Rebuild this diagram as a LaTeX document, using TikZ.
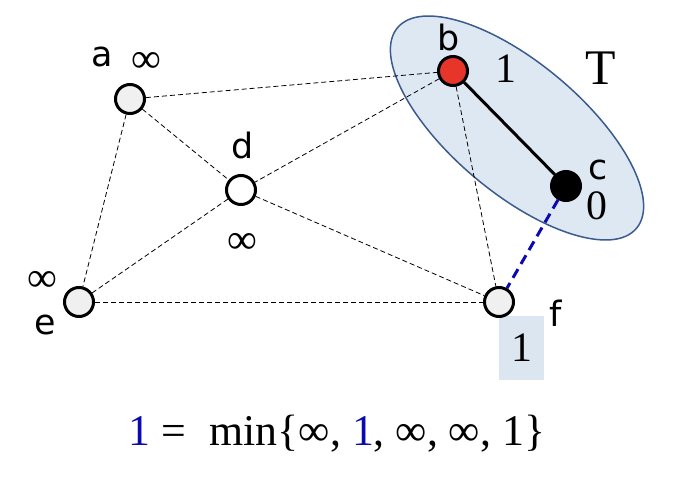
\documentclass[tikz,border=0pt]{standalone}
\usepackage{fontspec}
\setmainfont{Liberation Serif}
\newfontfamily\lblfont{DejaVu Sans}
\definecolor{nodegrey}{HTML}{F0F0F0}
\definecolor{nodered}{HTML}{E8352A}
\definecolor{setfill}{HTML}{DEE8F3}
\definecolor{setdraw}{HTML}{3B5B8E}
\definecolor{boxfill}{HTML}{DCE6F1}
\definecolor{eqblue}{HTML}{0A0AB0}
\begin{document}
\begin{tikzpicture}[x=1bp,y=-1bp,
  vert/.style={circle,draw=black,line width=3bp,minimum size=29bp,inner sep=0pt},
  thin/.style={draw=black,line width=0.8bp,dash pattern=on 5bp off 3bp},
  lbl/.style={inner sep=0pt,font=\lblfont\fontsize{35}{40}\selectfont},
  num/.style={inner sep=0pt,font=\fontsize{42}{48}\selectfont}]
\useasboundingbox (0,0) rectangle (678,480);
% set T
\draw[fill=setfill,draw=setdraw,line width=1.5bp] (517,128) ellipse [x radius=156bp,y radius=65bp,rotate=-40];
% box under f
\node[fill=boxfill,minimum width=45bp,minimum height=64bp,inner sep=0pt] (fbox) at (521.5,348) {};
% vertices
\node[vert,fill=nodegrey] (a) at (130,99) {};
\node[vert,fill=nodered] (b) at (453,71) {};
\node[vert,fill=black] (c) at (566,186) {};
\node[vert,fill=white] (d) at (241,190) {};
\node[vert,fill=nodegrey] (e) at (79,302) {};
\node[vert,fill=nodegrey] (f) at (499,302) {};
% edges
\draw[thin] (a) -- (b);
\draw[thin] (a) -- (d);
\draw[thin] (a) -- (e);
\draw[thin] (b) -- (d);
\draw[thin] (b) -- (f);
\draw[thin] (d) -- (e);
\draw[thin] (d) -- (f);
\draw[thin] (e) -- (f);
\draw[line width=3bp] (b) -- (c);
\draw[draw=eqblue,line width=3bp,dash pattern=on 10bp off 6bp] (c) -- (f);
% labels
\node[lbl] (la) at (102,57) {a};
\node[num] (ia) at (146,62) {∞};
\node[lbl] (lb) at (449,38) {b};
\node[num] (nb) at (506,69) {1};
\node[num,font=\fontsize{50}{56}\selectfont] (T) at (601,68) {T};
\node[lbl] (lc) at (598,170) {c};
\node[num] (nc) at (597,206) {0};
\node[lbl] (ld) at (243,146) {d};
\node[num] (id) at (242,243) {∞};
\node[num] (ie) at (42,281) {∞};
\node[lbl] (le) at (45,325) {e};
\node[lbl] (lf) at (556,313) {f};
\node[num] (nf) at (fbox) {1};
\node[num,font=\fontsize{44}{50}\selectfont] (eq) at (337,434) {\textcolor{eqblue}{1} =\; min\{∞, \textcolor{eqblue}{1}, ∞, ∞, 1\}};
\end{tikzpicture}
\end{document}
